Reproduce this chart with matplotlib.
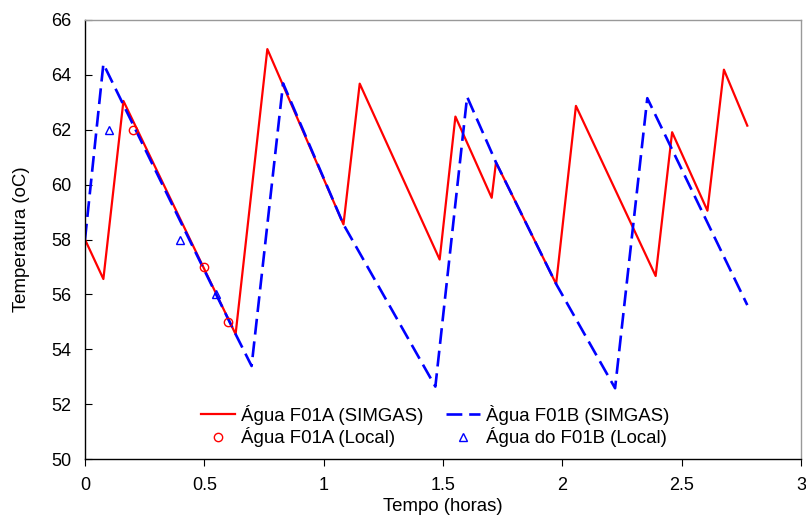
import matplotlib
matplotlib.use("Agg")
import matplotlib.pyplot as plt

plt.rcParams['font.family'] = ['Liberation Sans', 'DejaVu Sans']

# SIMGAS simulated series
red_x = [0.0, 0.077, 0.161, 0.631, 0.764, 1.083, 1.151, 1.486, 1.552, 1.704, 1.722,
         1.974, 2.057, 2.391, 2.460, 2.608, 2.677, 2.775]
red_y = [58.0, 56.56, 63.05, 54.55, 64.94, 58.55, 63.68, 57.27, 62.48, 59.52, 60.81,
         56.38, 62.87, 56.67, 61.91, 59.05, 64.19, 62.15]

blue_x = [0.0, 0.077, 0.631, 0.698, 0.830, 1.083, 1.468, 1.601, 1.722, 1.974, 2.221,
          2.356, 2.775]
blue_y = [58.0, 64.40, 54.55, 53.39, 63.69, 58.55, 52.64, 63.20, 60.81, 56.38, 52.58,
          63.15, 55.61]

# Local measurements
local_a_x = [0.2, 0.5, 0.6]
local_a_y = [62, 57, 55]
local_b_x = [0.1, 0.4, 0.55]
local_b_y = [62, 58, 56]

labels = ['Água F01A (SIMGAS)', 'Àgua F01B (SIMGAS)',
          'Água F01A (Local)', 'Água do F01B (Local)']

fig = plt.figure(figsize=(8.06, 5.17), dpi=100)
ax = fig.add_axes([85/806, 1-459/517, (801-85)/806, (459-20)/517])

l1, = ax.plot(red_x, red_y, color='#ff0000', lw=1.6, label=labels[0])
l2, = ax.plot(blue_x, blue_y, color='#0000ff', lw=1.9, dashes=(6, 2.6), label=labels[1])
l3, = ax.plot(local_a_x, local_a_y, 'o', mfc='none', mec='#ff0000', ms=6, mew=1.0,
              label=labels[2])
l4, = ax.plot(local_b_x, local_b_y, '^', mfc='none', mec='#0000ff', ms=6, mew=1.0,
              label=labels[3])

ax.set_xlim(0, 3)
ax.set_ylim(50, 66)
ax.set_xticks([0, 0.5, 1, 1.5, 2, 2.5, 3])
ax.set_xticklabels(['0', '0.5', '1', '1.5', '2', '2.5', '3'])
ax.set_yticks(range(50, 67, 2))

ax.spines['top'].set_color('#999999')
ax.spines['right'].set_color('#999999')
ax.spines['left'].set_color('black')
ax.spines['bottom'].set_color('black')
for s in ax.spines.values():
    s.set_linewidth(1.0)

ax.tick_params(axis='y', direction='in', length=5, labelsize=13, pad=10)
ax.tick_params(axis='x', direction='out', length=5, labelsize=13, pad=8)

ax.set_xlabel('Tempo (horas)', fontsize=13.4, labelpad=3)
ax.set_ylabel('Temperatura (oC)', fontsize=13.4, labelpad=15)

ax.legend(handles=[l1, l3, l2, l4], labels=[labels[0], labels[2], labels[1], labels[3]],
          ncol=2, loc='center',
          bbox_to_anchor=(0.489, 0.075), frameon=False, fontsize=13.4,
          columnspacing=1.2, handlelength=1.85, handletextpad=0.3,
          labelspacing=0.15)

fig.savefig('out.png', dpi=100)
